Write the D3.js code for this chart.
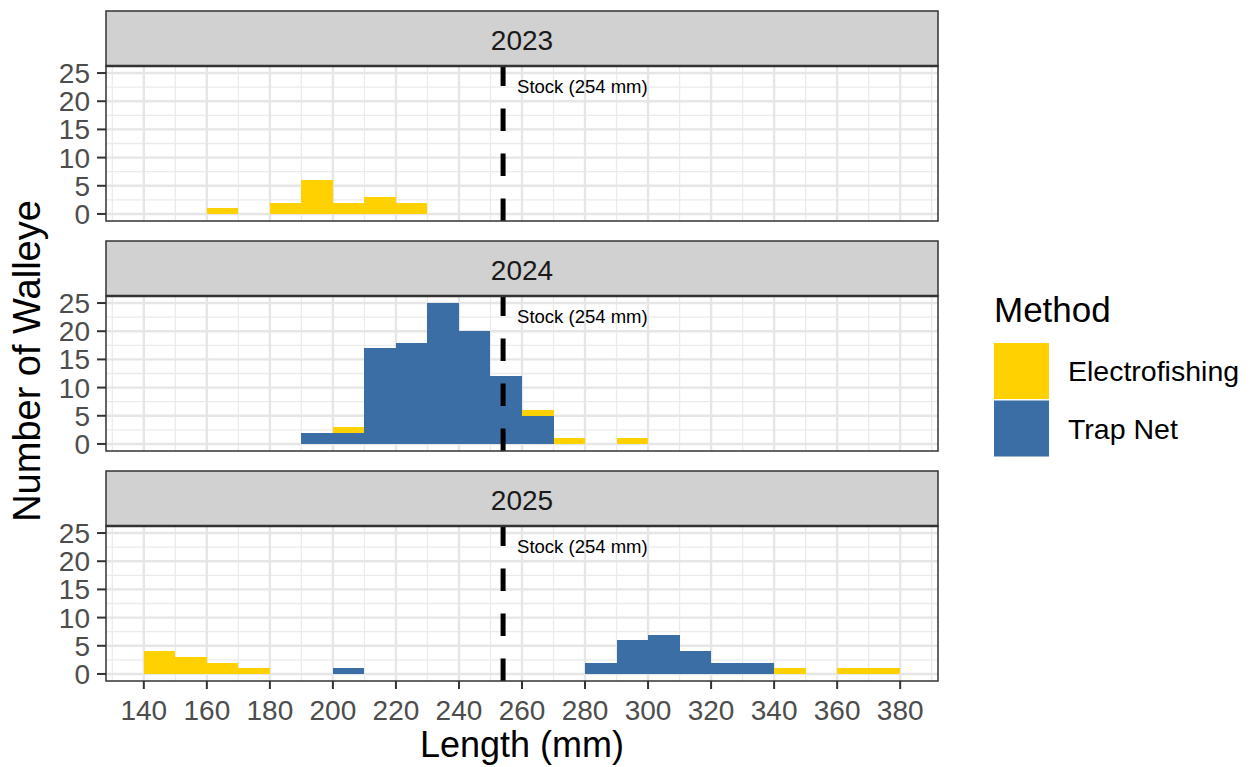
<!DOCTYPE html>
<html>
<head>
<meta charset="utf-8">
<script src="https://cdn.jsdelivr.net/npm/d3@7"></script>
<style>
  html, body { margin: 0; padding: 0; background: #fff; }
  svg { display: block; font-family: "Liberation Sans", Arial, Helvetica, sans-serif; }
</style>
</head>
<body>
<svg id="chart" width="1252" height="767"></svg>
<script>
// ---- data ----
const years = ["2023", "2024", "2025"];
const methods = ["Electrofishing", "Trap Net"];
const binStarts = [140,150,160,170,180,190,200,210,220,230,240,250,260,270,280,290,300,310,320,330,340,350,360,370];
const binWidth = 10;
const electro2023 = [0,0,1,0,2,6,2,3,2,0,0,0,0,0,0,0,0,0,0,0,0,0,0,0];
const trap2023    = [0,0,0,0,0,0,0,0,0,0,0,0,0,0,0,0,0,0,0,0,0,0,0,0];
const electro2024 = [0,0,0,0,0,0,1,0,0,0,0,0,1,1,0,1,0,0,0,0,0,0,0,0];
const trap2024    = [0,0,0,0,0,2,2,17,18,25,20,12,5,0,0,0,0,0,0,0,0,0,0,0];
const electro2025 = [4,3,2,1,0,0,0,0,0,0,0,0,0,0,0,0,0,0,0,0,1,0,1,1];
const trap2025    = [0,0,0,0,0,0,1,0,0,0,0,0,0,0,2,6,7,4,2,2,0,0,0,0];
const xTicks = [140,160,180,200,220,240,260,280,300,320,340,360,380];
const xMinor = [130,150,170,190,210,230,250,270,290,310,330,350,370,390];
const yTicks = [0,5,10,15,20,25];
const yMinor = [2.5,7.5,12.5,17.5,22.5];
const stockLength = 254;
const stockLabel = "Stock (254 mm)";
const colors = {"Electrofishing": "#FFD100", "Trap Net": "#3A6EA5"};

const seriesByYear = {
  "2023": {"Electrofishing": electro2023, "Trap Net": trap2023},
  "2024": {"Electrofishing": electro2024, "Trap Net": trap2024},
  "2025": {"Electrofishing": electro2025, "Trap Net": trap2025}
};

// ---- layout ----
const svg = d3.select("#chart");
const panelLeft = 106, panelRight = 938;
const stripH = 55, panelH = 155, facetStep = 230, firstTop = 11;

const x = d3.scaleLinear().domain([128, 392]).range([panelLeft, panelRight]);

years.forEach((yr, i) => {
  const stripTop = firstTop + i * facetStep;
  const pTop = stripTop + stripH;
  const pBot = pTop + panelH;
  const y = d3.scaleLinear().domain([-1.25, 26.25]).range([pBot, pTop]);
  const g = svg.append("g");

  g.append("rect").attr("x", panelLeft).attr("y", pTop)
    .attr("width", panelRight - panelLeft).attr("height", panelH).attr("fill", "#fff");

  // minor grid
  g.selectAll(".xmin").data(xMinor).join("line")
    .attr("x1", d => x(d)).attr("x2", d => x(d)).attr("y1", pTop).attr("y2", pBot)
    .attr("stroke", "#ebebeb").attr("stroke-width", 1.3);
  g.selectAll(".ymin").data(yMinor).join("line")
    .attr("x1", panelLeft).attr("x2", panelRight).attr("y1", d => y(d)).attr("y2", d => y(d))
    .attr("stroke", "#ebebeb").attr("stroke-width", 1.3);
  // major grid
  g.selectAll(".xmaj").data(xTicks).join("line")
    .attr("x1", d => x(d)).attr("x2", d => x(d)).attr("y1", pTop).attr("y2", pBot)
    .attr("stroke", "#e6e6e6").attr("stroke-width", 2.4);
  g.selectAll(".ymaj").data(yTicks).join("line")
    .attr("x1", panelLeft).attr("x2", panelRight).attr("y1", d => y(d)).attr("y2", d => y(d))
    .attr("stroke", "#e6e6e6").attr("stroke-width", 2.4);

  // stacked bars
  const rows = binStarts.map((b, k) => ({
    bin: b,
    "Trap Net": seriesByYear[yr]["Trap Net"][k],
    "Electrofishing": seriesByYear[yr]["Electrofishing"][k]
  }));
  const stacked = d3.stack().keys(["Trap Net", "Electrofishing"])(rows);
  stacked.forEach(layer => {
    g.append("g").selectAll("rect").data(layer.filter(d => d[1] - d[0] > 0)).join("rect")
      .attr("x", d => x(d.data.bin))
      .attr("width", d => x(d.data.bin + binWidth) - x(d.data.bin))
      .attr("y", d => y(d[1]))
      .attr("height", d => y(d[0]) - y(d[1]))
      .attr("fill", colors[layer.key])
      .attr("shape-rendering", "crispEdges");
  });

  // stock line (dashed, drawn from bottom up)
  g.append("line")
    .attr("x1", x(stockLength)).attr("x2", x(stockLength))
    .attr("y1", pBot).attr("y2", pTop)
    .attr("stroke", "#000").attr("stroke-width", 5)
    .attr("stroke-dasharray", "22.5,22.5");
  g.append("text")
    .attr("x", x(stockLength) + 14).attr("y", pTop + 27)
    .attr("font-size", 18.5).attr("fill", "#000")
    .text(stockLabel);

  // panel border
  g.append("rect").attr("x", panelLeft).attr("y", pTop)
    .attr("width", panelRight - panelLeft).attr("height", panelH)
    .attr("fill", "none").attr("stroke", "#333").attr("stroke-width", 1.5);

  // strip
  g.append("rect").attr("x", panelLeft).attr("y", stripTop)
    .attr("width", panelRight - panelLeft).attr("height", stripH)
    .attr("fill", "#d1d1d1").attr("stroke", "#333").attr("stroke-width", 1.5);
  g.append("line").attr("x1", panelLeft).attr("x2", panelRight)
    .attr("y1", pTop).attr("y2", pTop).attr("stroke", "#333").attr("stroke-width", 2.5);
  g.append("text")
    .attr("x", (panelLeft + panelRight) / 2).attr("y", stripTop + 38.5)
    .attr("text-anchor", "middle").attr("font-size", 28).attr("fill", "#1a1a1a")
    .text(yr);

  // y axis ticks + labels
  g.selectAll(".yt").data(yTicks).join("line")
    .attr("x1", panelLeft - 9).attr("x2", panelLeft).attr("y1", d => y(d)).attr("y2", d => y(d))
    .attr("stroke", "#333").attr("stroke-width", 2);
  g.selectAll(".yl").data(yTicks).join("text")
    .attr("x", panelLeft - 16).attr("y", d => y(d) + 10)
    .attr("text-anchor", "end").attr("font-size", 28).attr("fill", "#4d4d4d")
    .text(d => d);

  if (i === years.length - 1) {
    g.selectAll(".xt").data(xTicks).join("line")
      .attr("x1", d => x(d)).attr("x2", d => x(d)).attr("y1", pBot).attr("y2", pBot + 8)
      .attr("stroke", "#333").attr("stroke-width", 2);
    g.selectAll(".xl").data(xTicks).join("text")
      .attr("x", d => x(d)).attr("y", pBot + 39)
      .attr("text-anchor", "middle").attr("font-size", 28).attr("fill", "#4d4d4d")
      .text(d => d);
  }
});

// axis titles
svg.append("text")
  .attr("x", (panelLeft + panelRight) / 2).attr("y", 757)
  .attr("text-anchor", "middle").attr("font-size", 36).attr("fill", "#000")
  .text("Length (mm)");
svg.append("text")
  .attr("transform", "translate(40,361) rotate(-90)")
  .attr("text-anchor", "middle").attr("font-size", 38).attr("fill", "#000")
  .text("Number of Walleye");

// legend
const lg = svg.append("g");
lg.append("text").attr("x", 994).attr("y", 322)
  .attr("font-size", 35).attr("fill", "#000").text("Method");
methods.forEach((m, k) => {
  const top = 343 + k * 57.5;
  lg.append("rect").attr("x", 994).attr("y", top).attr("width", 55).attr("height", 56)
    .attr("fill", colors[m]);
  lg.append("text").attr("x", 1068).attr("y", top + 28 + 10)
    .attr("font-size", 28.5).attr("fill", "#000").text(m);
});
</script>
</body>
</html>
